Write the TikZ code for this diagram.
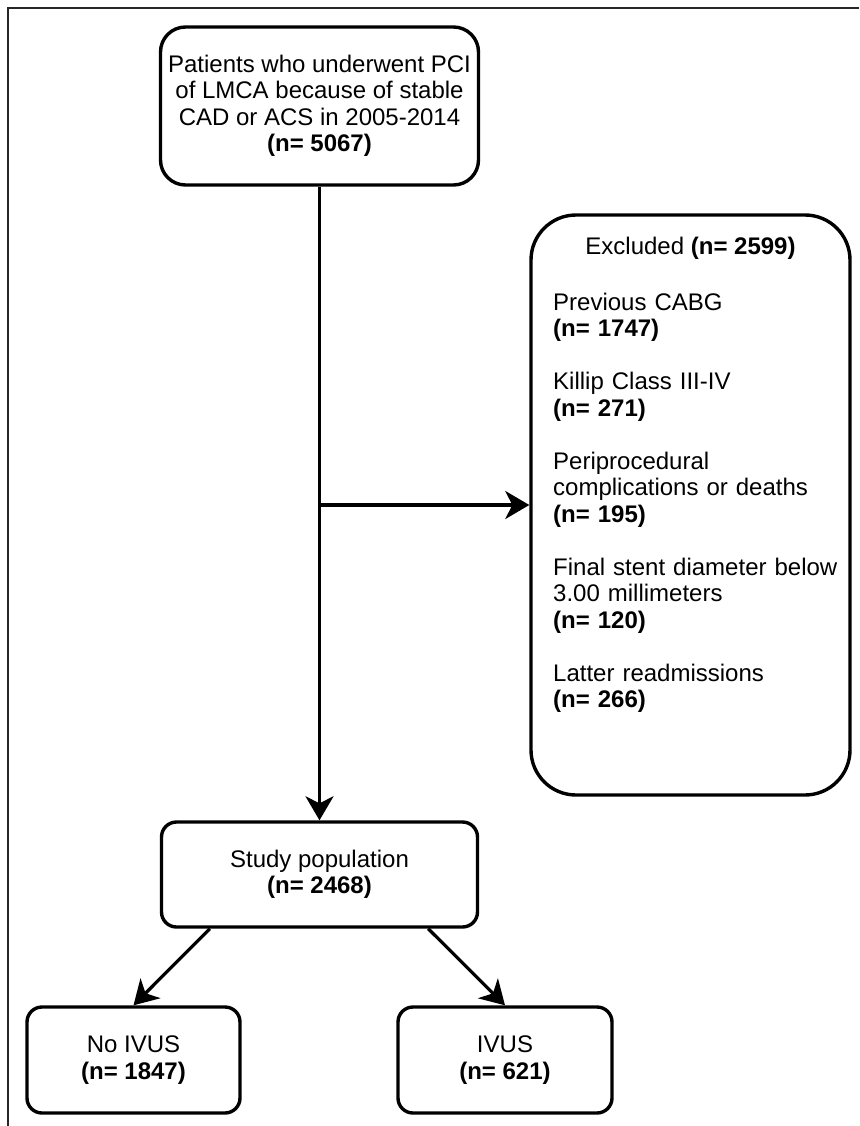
\documentclass[tikz,border=0pt]{standalone}
\usepackage{fontspec}
\setmainfont{Liberation Sans}
\usetikzlibrary{arrows.meta}
\tikzset{
  box/.style={draw=black, line width=3.4pt, rectangle, inner sep=0pt, align=center,
    font={\fontsize{24}{26.5}\selectfont}},
  txt/.style={inner sep=0pt, font={\fontsize{24}{26.5}\selectfont}},
  conn/.style={line width=3.2pt, -{Stealth[length=24pt,width=28pt,inset=7pt]}},
  frame/.style={line width=2.2pt, draw=black!85}
}
\begin{document}
\begin{tikzpicture}[x=1pt,y=-1pt]
\useasboundingbox (0,0) rectangle (859,1126);
\coordinate (fa) at (8,1126);
\coordinate (fb) at (8,8);
\coordinate (fc) at (859,8);
\draw[frame] (fa) -- (fb) -- (fc);

\node[box, rounded corners=25pt, minimum width=318pt, minimum height=158pt] (top) at (319.5,106)
  {Patients who underwent PCI\\of LMCA because of stable\\CAD or ACS in 2005-2014\\\textbf{(n= 5067)}};

\node[box, rounded corners=45pt, minimum width=319pt, minimum height=580pt] (exc) at (690.5,505) {};
\node[txt] (exch) at (690.5,248) {Excluded \textbf{(n= 2599)}};
\node[txt, anchor=north west, text width=300pt, align=left] (excl) at (553,292.6)
  {Previous CABG\\\textbf{(n= 1747)}\\[26.5pt]
   Killip Class III-IV\\\textbf{(n= 271)}\\[26.5pt]
   Periprocedural\\complications or deaths\\\textbf{(n= 195)}\\[26.5pt]
   Final stent diameter below\\3.00 millimeters\\\textbf{(n= 120)}\\[26.5pt]
   Latter readmissions\\\textbf{(n= 266)}};

\node[box, rounded corners=15pt, minimum width=316pt, minimum height=105pt] (study) at (319.5,874.5)
  {Study population\\\textbf{(n= 2468)}};

\node[box, rounded corners=15pt, minimum width=213pt, minimum height=106pt] (noivus) at (133.5,1060)
  {No IVUS\\\textbf{(n= 1847)}};
\node[box, rounded corners=15pt, minimum width=214pt, minimum height=106pt] (ivus) at (505,1060)
  {IVUS\\\textbf{(n= 621)}};

\draw[conn] (top.south) -- (study.north);
\coordinate (br) at (top.south |- exc.west);
\draw[conn] (br) -- (exc.west);
\draw[conn] ([xshift=50pt]study.south west) -- (noivus.north);
\draw[conn] ([xshift=-51pt]study.south east) -- (ivus.north);
\end{tikzpicture}
\end{document}
